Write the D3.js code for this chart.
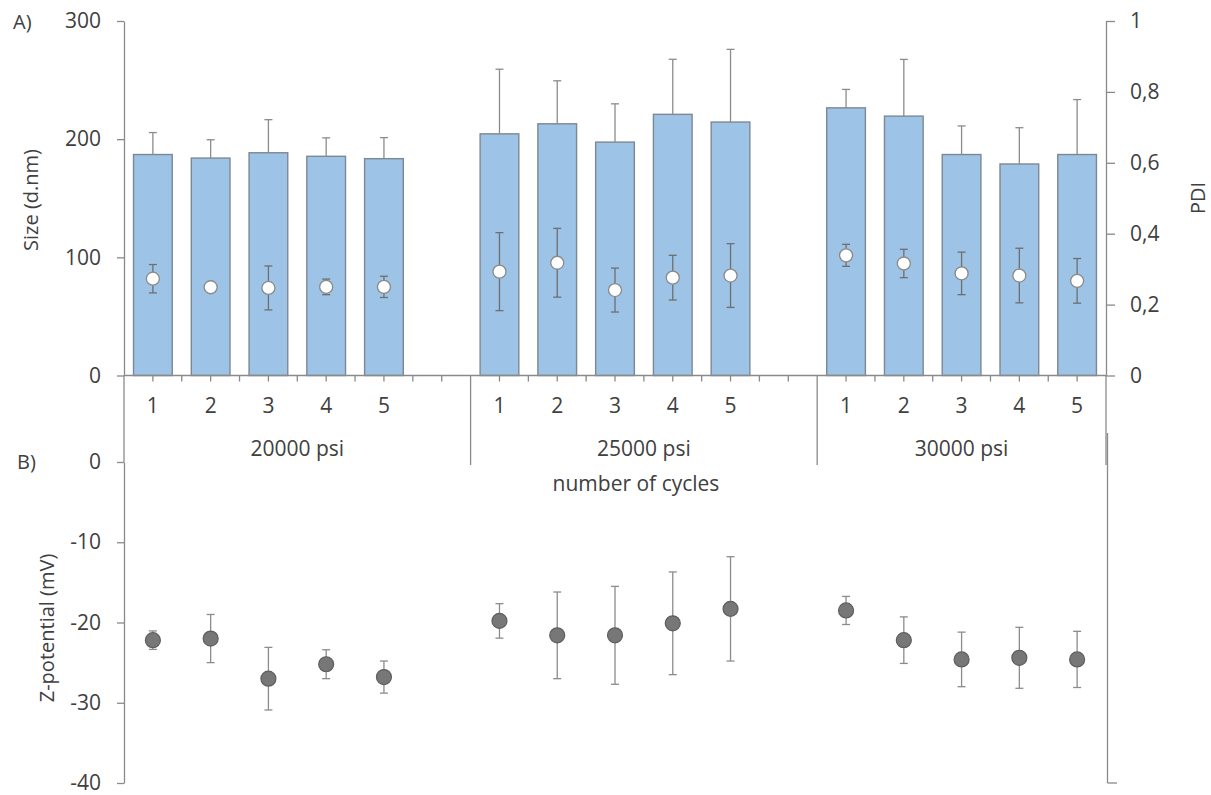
<!DOCTYPE html>
<html>
<head>
<meta charset="utf-8">
<script src="https://cdn.jsdelivr.net/npm/d3@7"></script>
<style>
body { margin: 0; background: #fff; }
svg text { font-family: "Open Sans", sans-serif; fill: #404040; }
.axis path, .axis line { stroke: #8a8a8a; stroke-width: 1.3; }
.axis text { font-size: 21px; fill: #404040; }
</style>
</head>
<body>
<div class="chart"></div>
<script>
// data
const groups = ["20000 psi", "25000 psi", "30000 psi"];
const cycles = [1, 2, 3, 4, 5];

// size (d.nm), mean and sd, 5 cycles per pressure
const sizeMean = [187, 184, 188.5, 185.5, 183.5, 204.5, 213, 197.5, 221, 214.5, 226.5, 219.5, 187, 179, 187];
const sizeSd = [18.6, 15.5, 28, 15.6, 17.8, 54.7, 36.4, 32.4, 46.6, 61.5, 15.6, 48, 24.2, 30.7, 46.5];

// PDI
const pdiMean = [0.273, 0.249, 0.247, 0.25, 0.25, 0.293, 0.318, 0.241, 0.276, 0.282, 0.339, 0.316, 0.288, 0.282, 0.267];
const pdiSd = [0.04, 0.01, 0.062, 0.022, 0.03, 0.11, 0.097, 0.062, 0.063, 0.09, 0.031, 0.04, 0.06, 0.077, 0.063];

// Z-potential (mV)
const zetaMean = [-22.2, -22.0, -27.0, -25.2, -26.8, -19.8, -21.6, -21.6, -20.1, -18.3, -18.5, -22.2, -24.6, -24.4, -24.6];
const zetaSd = [1.15, 3.0, 3.9, 1.8, 2.0, 2.15, 5.4, 6.1, 6.4, 6.5, 1.75, 2.9, 3.4, 3.8, 3.5];

const sizeTicks = [0, 100, 200, 300];
const pdiTicks = [0, 0.2, 0.4, 0.6, 0.8, 1];
const zetaTicks = [-40, -30, -20, -10, 0];

var width = 1211, height = 795;
var left = 124, right = 1106;
var topA = 21, baseA = 375.5;
var topB = 462, baseB = 783;

var svg = d3.select(".chart").append("svg")
    .attr("width", width)
    .attr("height", height);

// one slot per cycle, plus an empty slot between pressure groups
const keys = [];
groups.forEach((g, gi) => {
    cycles.forEach(c => keys.push(gi + "-" + c));
    if (gi < groups.length - 1) keys.push(gi + "-gap");
});

const xScale = d3.scaleBand()
    .domain(keys)
    .range([left, right])
    .paddingInner(0.33)
    .paddingOuter(0.165);

const step = xScale.step();
const halfGap = step * 0.33 / 2;

const data = sizeMean.map((m, i) => {
    const gi = Math.floor(i / cycles.length), ci = i % cycles.length;
    return {
        key: gi + "-" + cycles[ci],
        size: m, sizeSd: sizeSd[i],
        pdi: pdiMean[i], pdiSd: pdiSd[i],
        zeta: zetaMean[i], zetaSd: zetaSd[i]
    };
});
const xc = d => xScale(d.key) + xScale.bandwidth() / 2;

const ySize = d3.scaleLinear().domain([0, 300]).range([baseA, topA]);
const yPdi = d3.scaleLinear().domain([0, 1]).range([baseA, topA]);
const yZeta = d3.scaleLinear().domain([-40, 0]).range([baseB, topB]);

// bars
svg.selectAll(".bar")
    .data(data)
    .enter()
    .append("rect")
    .attr("class", "bar")
    .attr("x", d => xScale(d.key))
    .attr("y", d => ySize(d.size))
    .attr("width", xScale.bandwidth())
    .attr("height", d => ySize(0) - ySize(d.size))
    .attr("fill", "#9dc3e6")
    .attr("stroke", "#7d8894")
    .attr("stroke-width", 1.4);

function errorBar(g, x, y1, y2, withLow) {
    g.append("line").attr("x1", x).attr("x2", x).attr("y1", y1).attr("y2", y2);
    g.append("line").attr("x1", x - 4).attr("x2", x + 4).attr("y1", y2).attr("y2", y2);
    if (withLow) g.append("line").attr("x1", x - 4).attr("x2", x + 4).attr("y1", y1).attr("y2", y1);
}

// size error bars (plus only)
const errSize = svg.append("g").attr("stroke", "#8c8c8c").attr("stroke-width", 1.3);
data.forEach(d => errorBar(errSize, xc(d), ySize(d.size), ySize(d.size + d.sizeSd), false));

// PDI
const errPdi = svg.append("g").attr("stroke", "#6f6f6f").attr("stroke-width", 1.3);
data.forEach(d => errorBar(errPdi, xc(d), yPdi(d.pdi - d.pdiSd), yPdi(d.pdi + d.pdiSd), true));

svg.selectAll(".pdi")
    .data(data)
    .enter()
    .append("circle")
    .attr("class", "pdi")
    .attr("cx", xc)
    .attr("cy", d => yPdi(d.pdi))
    .attr("r", 6.5)
    .attr("fill", "#fff")
    .attr("stroke", "#8a8a8a")
    .attr("stroke-width", 1.3);

// Z-potential
const errZeta = svg.append("g").attr("stroke", "#8c8c8c").attr("stroke-width", 1.3);
data.forEach(d => errorBar(errZeta, xc(d), yZeta(d.zeta - d.zetaSd), yZeta(d.zeta + d.zetaSd), true));

svg.selectAll(".zeta")
    .data(data)
    .enter()
    .append("circle")
    .attr("class", "zeta")
    .attr("cx", xc)
    .attr("cy", d => yZeta(d.zeta))
    .attr("r", 7.5)
    .attr("fill", "#777777")
    .attr("stroke", "#5e5e5e")
    .attr("stroke-width", 1.2);

// axes
const pdiFormat = d => (d === 0 || d === 1) ? String(d) : d3.format(".1f")(d).replace(".", ",");

svg.append("g")
    .attr("class", "axis")
    .attr("transform", `translate(${left},0)`)
    .call(d3.axisLeft(ySize).tickValues(sizeTicks).tickSize(7).tickSizeOuter(0).tickPadding(16));

svg.append("g")
    .attr("class", "axis")
    .attr("transform", `translate(${right},0)`)
    .call(d3.axisRight(yPdi).tickValues(pdiTicks).tickFormat(pdiFormat).tickSize(9).tickSizeOuter(0).tickPadding(15));

svg.append("g")
    .attr("class", "axis")
    .attr("transform", `translate(${left},0)`)
    .call(d3.axisLeft(yZeta).tickValues(zetaTicks).tickFormat(d => String(d)).tickSize(7).tickSizeOuter(0).tickPadding(16));

// category axis
const cat = svg.append("g").attr("class", "axis");
cat.append("line").attr("x1", left).attr("x2", right).attr("y1", baseA).attr("y2", baseA);
cat.append("line").attr("x1", left).attr("x2", left).attr("y1", baseA).attr("y2", topB);
cat.append("line").attr("x1", right).attr("x2", right).attr("y1", baseA).attr("y2", 465);
keys.forEach((k, i) => {
    const cx = xScale(k) + xScale.bandwidth() / 2;
    cat.append("line").attr("x1", cx).attr("x2", cx).attr("y1", baseA).attr("y2", baseA + 6);
    const bx = xScale(k) - halfGap;
    if (i === 0) return;
    if (k.endsWith("-1")) {
        cat.append("line").attr("x1", bx).attr("x2", bx).attr("y1", baseA).attr("y2", 465);
    } else {
        cat.append("line").attr("x1", bx).attr("x2", bx).attr("y1", baseA).attr("y2", baseA + 6);
    }
});

// right axis of panel B (no labels)
cat.append("line").attr("x1", right + 1.5).attr("x2", right + 1.5).attr("y1", 433).attr("y2", baseB);
cat.append("line").attr("x1", right + 1.5).attr("x2", right + 11).attr("y1", baseB).attr("y2", baseB);

svg.selectAll(".cycle")
    .data(data)
    .enter()
    .append("text")
    .attr("class", "cycle")
    .attr("x", xc)
    .attr("y", 413)
    .attr("text-anchor", "middle")
    .style("font-size", "21px")
    .text(d => d.key.split("-")[1]);

svg.selectAll(".group")
    .data(groups)
    .enter()
    .append("text")
    .attr("class", "group")
    .attr("x", (g, gi) => {
        const first = xScale(gi + "-1") - halfGap;
        const last = xScale(gi + "-" + cycles[cycles.length - 1]) + xScale.bandwidth() + halfGap;
        const end = gi < groups.length - 1 ? last + step : last;
        return (first + end) / 2;
    })
    .attr("y", 456)
    .attr("text-anchor", "middle")
    .style("font-size", "21px")
    .text(g => g);

svg.append("text")
    .attr("x", 636)
    .attr("y", 491)
    .attr("text-anchor", "middle")
    .style("font-size", "21px")
    .text("number of cycles");

// titles
svg.append("text")
    .attr("transform", "translate(38,200) rotate(-90)")
    .attr("text-anchor", "middle")
    .style("font-size", "20px")
    .text("Size (d.nm)");

svg.append("text")
    .attr("transform", "translate(1205,198) rotate(-90)")
    .attr("text-anchor", "middle")
    .style("font-size", "20px")
    .text("PDI");

svg.append("text")
    .attr("transform", "translate(54,628) rotate(-90)")
    .attr("text-anchor", "middle")
    .style("font-size", "20px")
    .text("Z-potential (mV)");

svg.append("text")
    .attr("x", 13)
    .attr("y", 29)
    .style("font-size", "20px")
    .text("A)");

svg.append("text")
    .attr("x", 17)
    .attr("y", 469)
    .style("font-size", "20px")
    .text("B)");
</script>
</body>
</html>
